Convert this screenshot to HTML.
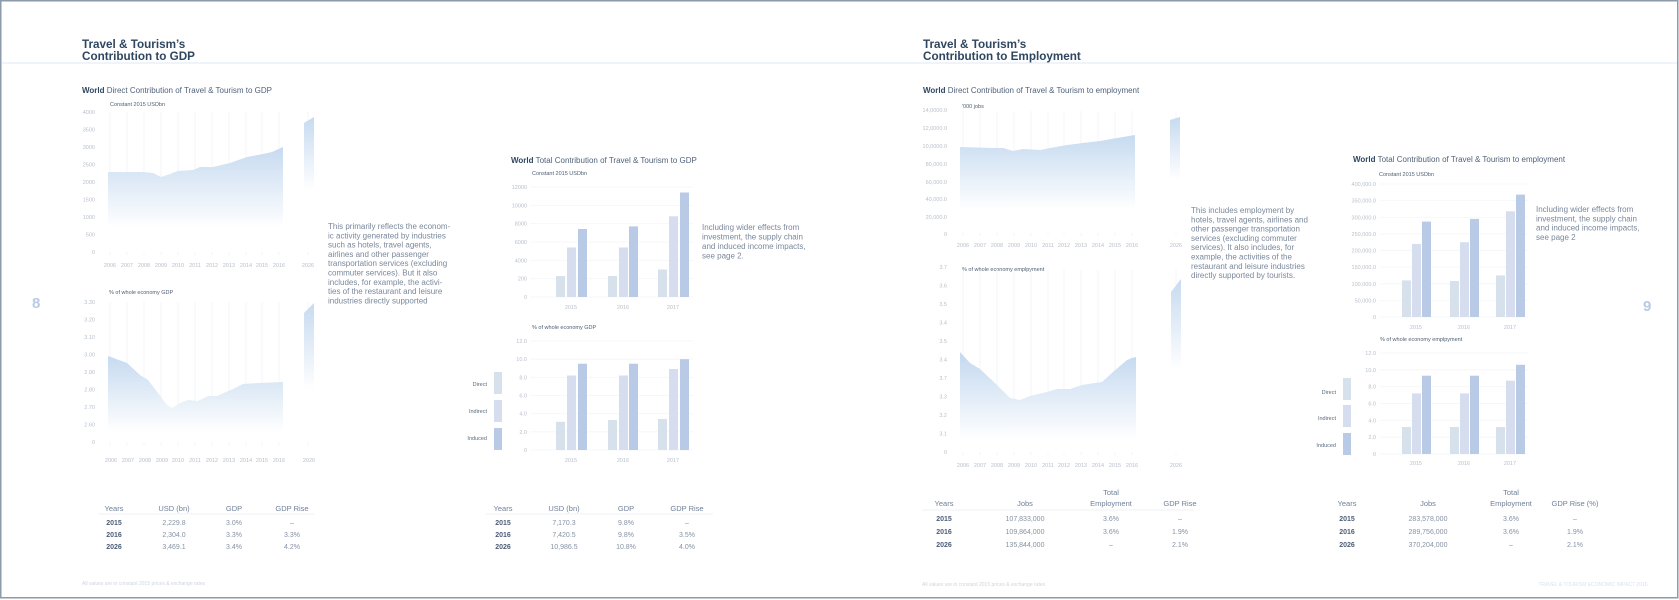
<!DOCTYPE html>
<html><head><meta charset="utf-8"><style>
html,body{margin:0;padding:0;background:#fff}
svg{display:block}
text{font-family:"Liberation Sans",sans-serif}
.t{fill:#2e4660;font-weight:bold;font-size:11.7px}
.h{fill:#51627a;font-size:8px}
.h b,.hb{font-weight:bold;fill:#2e4660}
.s{fill:#4e5e72;font-size:5.5px}
.k{fill:#b8c0cb;font-size:5.5px}
.p{fill:#7a889b;font-size:8px}
.th{fill:#708098;font-size:7.5px}
.ty{fill:#4d5d78;font-size:7px;font-weight:bold}
.tv{fill:#8592a4;font-size:7px}
.lg{fill:#5a6a80;font-size:5.5px}
.g{stroke:#f1f3f6;stroke-width:0.8}
.gh{stroke:#f3f5f8;stroke-width:0.8}
.d{fill:#d7e1ec}.i{fill:#d6ddee}.n{fill:#b8cae6}
</style></head><body>
<svg width="1679" height="600" viewBox="0 0 1679 600" xmlns="http://www.w3.org/2000/svg">
<defs>
<linearGradient id="g1" gradientUnits="userSpaceOnUse" x1="0" y1="147" x2="0" y2="228"><stop offset="0" stop-color="#c6daf0"/><stop offset="1" stop-color="#fff"/></linearGradient>
<linearGradient id="g1b" gradientUnits="userSpaceOnUse" x1="0" y1="117" x2="0" y2="190"><stop offset="0" stop-color="#c6daf0"/><stop offset="1" stop-color="#fff"/></linearGradient>
<linearGradient id="g2" gradientUnits="userSpaceOnUse" x1="0" y1="356" x2="0" y2="432"><stop offset="0" stop-color="#c6daf0"/><stop offset="1" stop-color="#fff"/></linearGradient>
<linearGradient id="g2b" gradientUnits="userSpaceOnUse" x1="0" y1="303" x2="0" y2="390"><stop offset="0" stop-color="#c6daf0"/><stop offset="1" stop-color="#fff"/></linearGradient>
<linearGradient id="g3" gradientUnits="userSpaceOnUse" x1="0" y1="135" x2="0" y2="210"><stop offset="0" stop-color="#c6daf0"/><stop offset="1" stop-color="#fff"/></linearGradient>
<linearGradient id="g3b" gradientUnits="userSpaceOnUse" x1="0" y1="117" x2="0" y2="180"><stop offset="0" stop-color="#c6daf0"/><stop offset="1" stop-color="#fff"/></linearGradient>
<linearGradient id="g4" gradientUnits="userSpaceOnUse" x1="0" y1="357" x2="0" y2="440"><stop offset="0" stop-color="#c6daf0"/><stop offset="1" stop-color="#fff"/></linearGradient>
<linearGradient id="g4b" gradientUnits="userSpaceOnUse" x1="0" y1="279" x2="0" y2="370"><stop offset="0" stop-color="#c6daf0"/><stop offset="1" stop-color="#fff"/></linearGradient>
</defs>

<rect x="0.75" y="0.75" width="1677" height="597" fill="none" stroke="#8c9aaa" stroke-width="1.5"/>
<rect x="2" y="62" width="1675" height="2" fill="#eef4fa"/>

<text class="t" x="82" y="48">Travel &amp; Tourism’s</text>
<text class="t" x="82" y="60">Contribution to GDP</text>
<text x="32" y="308" font-size="15" font-weight="bold" fill="#b8cae4" font-family="Liberation Sans">8</text>

<text class="h" x="82" y="93"><tspan class="hb">World</tspan> Direct Contribution of Travel &amp; Tourism to GDP</text>
<text class="s" x="110" y="106">Constant 2015 USDbn</text>
<g class="g">
<line x1="110" y1="112" x2="110" y2="255"/><line x1="127" y1="112" x2="127" y2="255"/><line x1="144" y1="112" x2="144" y2="255"/><line x1="161" y1="112" x2="161" y2="255"/><line x1="178" y1="112" x2="178" y2="255"/><line x1="195" y1="112" x2="195" y2="255"/><line x1="212" y1="112" x2="212" y2="255"/><line x1="229" y1="112" x2="229" y2="255"/><line x1="246" y1="112" x2="246" y2="255"/><line x1="262" y1="112" x2="262" y2="255"/><line x1="279" y1="112" x2="279" y2="255"/><line x1="308" y1="112" x2="308" y2="255"/>
</g>
<path d="M108,172 L143,172 L153,173 L161,177 L170,174 L178,171 L193,170 L200,167 L213,167 L230,163 L247,157 L263,154 L272,152 L283,147 L283,252 L108,252 Z" fill="url(#g1)"/>
<path d="M304,123 L314,117 L314,252 L304,252 Z" fill="url(#g1b)"/>
<g class="k" text-anchor="end">
<text x="95" y="114">4000</text><text x="95" y="131.5">3500</text><text x="95" y="149">3000</text><text x="95" y="166.5">2500</text><text x="95" y="184">2000</text><text x="95" y="201.5">1500</text><text x="95" y="219">1000</text><text x="95" y="236.5">500</text><text x="95" y="254">0</text>
</g>
<g class="k" text-anchor="middle">
<text x="110" y="267">2006</text><text x="127" y="267">2007</text><text x="144" y="267">2008</text><text x="161" y="267">2009</text><text x="178" y="267">2010</text><text x="195" y="267">2011</text><text x="212" y="267">2012</text><text x="229" y="267">2013</text><text x="246" y="267">2014</text><text x="262" y="267">2015</text><text x="279" y="267">2016</text><text x="308" y="267">2026</text>
</g>

<text class="s" x="109" y="294">% of whole economy GDP</text>
<g class="g">
<line x1="110" y1="302" x2="110" y2="445"/><line x1="127" y1="302" x2="127" y2="445"/><line x1="144" y1="302" x2="144" y2="445"/><line x1="161" y1="302" x2="161" y2="445"/><line x1="178" y1="302" x2="178" y2="445"/><line x1="195" y1="302" x2="195" y2="445"/><line x1="212" y1="302" x2="212" y2="445"/><line x1="229" y1="302" x2="229" y2="445"/><line x1="246" y1="302" x2="246" y2="445"/><line x1="262" y1="302" x2="262" y2="445"/><line x1="279" y1="302" x2="279" y2="445"/><line x1="308" y1="302" x2="308" y2="445"/>
</g>
<path d="M108,356 L127,363 L140,375 L148,380 L158,393 L167,405 L172,408 L180,403 L188,400 L198,401 L208,396 L217,396 L233,389 L243,384 L260,383 L283,382 L283,442 L108,442 Z" fill="url(#g2)"/>
<path d="M304,313 L314,303 L314,442 L304,442 Z" fill="url(#g2b)"/>
<g class="k" text-anchor="end">
<text x="95" y="304">3.30</text><text x="95" y="321.5">3.20</text><text x="95" y="339">3.10</text><text x="95" y="356.5">3.00</text><text x="95" y="374">2.90</text><text x="95" y="391.5">2.80</text><text x="95" y="409">2.70</text><text x="95" y="426.5">2.60</text><text x="95" y="444">0</text>
</g>
<g class="k" text-anchor="middle">
<text x="111" y="462">2006</text><text x="128" y="462">2007</text><text x="145" y="462">2008</text><text x="162" y="462">2009</text><text x="178" y="462">2010</text><text x="195" y="462">2011</text><text x="212" y="462">2012</text><text x="229" y="462">2013</text><text x="246" y="462">2014</text><text x="262" y="462">2015</text><text x="279" y="462">2016</text><text x="309" y="462">2026</text>
</g>

<g class="p">
<text x="328" y="229">This primarily reflects the econom-</text>
<text x="328" y="238.3">ic activity generated by industries</text>
<text x="328" y="247.6">such as hotels, travel agents,</text>
<text x="328" y="256.9">airlines and other passenger</text>
<text x="328" y="266.2">transportation services (excluding</text>
<text x="328" y="275.5">commuter services). But it also</text>
<text x="328" y="284.8">includes, for example, the activi-</text>
<text x="328" y="294.1">ties of the restaurant and leisure</text>
<text x="328" y="303.4">industries directly supported</text>
</g>

<text class="h" x="511" y="163"><tspan class="hb">World</tspan> Total Contribution of Travel &amp; Tourism to GDP</text>
<text class="s" x="532" y="175">Constant 2015 USDbn</text>
<g class="gh">
<line x1="530" y1="187" x2="693" y2="187"/><line x1="530" y1="205.3" x2="693" y2="205.3"/><line x1="530" y1="223.7" x2="693" y2="223.7"/><line x1="530" y1="242" x2="693" y2="242"/><line x1="530" y1="260.3" x2="693" y2="260.3"/><line x1="530" y1="278.7" x2="693" y2="278.7"/><line x1="530" y1="297" x2="693" y2="297"/>
</g>
<g class="k" text-anchor="end">
<text x="527" y="189">12000</text><text x="527" y="207.3">10000</text><text x="527" y="225.7">8000</text><text x="527" y="244">6000</text><text x="527" y="262.3">4000</text><text x="527" y="280.7">200</text><text x="527" y="299">0</text>
</g>
<rect class="d" x="556" y="276" width="9" height="21"/><rect class="i" x="567" y="247.5" width="9" height="49.5"/><rect class="n" x="578" y="229" width="9" height="68"/>
<rect class="d" x="608" y="276" width="9" height="21"/><rect class="i" x="619" y="247.5" width="9" height="49.5"/><rect class="n" x="629" y="226.4" width="9" height="70.6"/>
<rect class="d" x="658" y="269.5" width="9" height="27.5"/><rect class="i" x="669" y="216.3" width="9" height="80.7"/><rect class="n" x="680" y="192.5" width="9" height="104.5"/>
<g class="k" text-anchor="middle"><text x="571" y="309">2015</text><text x="623" y="309">2016</text><text x="673" y="309">2017</text></g>

<g class="p" font-size="8.5">
<text x="702" y="230">Including wider effects from</text>
<text x="702" y="239.5">investment, the supply chain</text>
<text x="702" y="249">and induced income impacts,</text>
<text x="702" y="258.5">see page 2.</text>
</g>

<text class="s" x="532" y="329">% of whole economy GDP</text>
<g class="gh">
<line x1="530" y1="341" x2="693" y2="341"/><line x1="530" y1="359.2" x2="693" y2="359.2"/><line x1="530" y1="377.3" x2="693" y2="377.3"/><line x1="530" y1="395.5" x2="693" y2="395.5"/><line x1="530" y1="413.7" x2="693" y2="413.7"/><line x1="530" y1="431.8" x2="693" y2="431.8"/><line x1="530" y1="450" x2="693" y2="450"/>
</g>
<g class="k" text-anchor="end">
<text x="527" y="343">12.0</text><text x="527" y="361.2">10.0</text><text x="527" y="379.3">8.0</text><text x="527" y="397.5">6.0</text><text x="527" y="415.7">4.0</text><text x="527" y="433.8">2.0</text><text x="527" y="452">0</text>
</g>
<rect class="d" x="556" y="421.8" width="9" height="28.2"/><rect class="i" x="567" y="375.5" width="9" height="74.5"/><rect class="n" x="578" y="363.7" width="9" height="86.3"/>
<rect class="d" x="608" y="420" width="9" height="30"/><rect class="i" x="619" y="375.5" width="9" height="74.5"/><rect class="n" x="629" y="363.7" width="9" height="86.3"/>
<rect class="d" x="658" y="419" width="9" height="31"/><rect class="i" x="669" y="369" width="9" height="81"/><rect class="n" x="680" y="359.2" width="9" height="90.8"/>
<g class="k" text-anchor="middle"><text x="571" y="462">2015</text><text x="623" y="462">2016</text><text x="673" y="462">2017</text></g>
<rect class="d" x="494" y="372" width="8" height="22"/><rect class="i" x="494" y="400" width="8" height="22"/><rect class="n" x="494" y="428" width="8" height="22"/>
<g class="lg" text-anchor="end"><text x="487" y="386">Direct</text><text x="487" y="413">Indirect</text><text x="487" y="440">Induced</text></g>

<g text-anchor="middle">
<text class="th" x="114" y="511">Years</text><text class="th" x="174" y="511">USD (bn)</text><text class="th" x="234" y="511">GDP</text><text class="th" x="292" y="511">GDP Rise</text>
<text class="ty" x="114" y="525">2015</text><text class="tv" x="174" y="525">2,229.8</text><text class="tv" x="234" y="525">3.0%</text><text class="tv" x="292" y="525">–</text>
<text class="ty" x="114" y="537">2016</text><text class="tv" x="174" y="537">2,304.0</text><text class="tv" x="234" y="537">3.3%</text><text class="tv" x="292" y="537">3.3%</text>
<text class="ty" x="114" y="549">2026</text><text class="tv" x="174" y="549">3,469.1</text><text class="tv" x="234" y="549">3.4%</text><text class="tv" x="292" y="549">4.2%</text>
<text class="th" x="503" y="511">Years</text><text class="th" x="564" y="511">USD (bn)</text><text class="th" x="626" y="511">GDP</text><text class="th" x="687" y="511">GDP Rise</text>
<text class="ty" x="503" y="525">2015</text><text class="tv" x="564" y="525">7,170.3</text><text class="tv" x="626" y="525">9.8%</text><text class="tv" x="687" y="525">–</text>
<text class="ty" x="503" y="537">2016</text><text class="tv" x="564" y="537">7,420.5</text><text class="tv" x="626" y="537">9.8%</text><text class="tv" x="687" y="537">3.5%</text>
<text class="ty" x="503" y="549">2026</text><text class="tv" x="564" y="549">10,986.5</text><text class="tv" x="626" y="549">10.8%</text><text class="tv" x="687" y="549">4.0%</text>
</g>
<line x1="98" y1="514" x2="314" y2="514" stroke="#e8ecf1" stroke-width="0.8"/>
<line x1="485" y1="514" x2="713" y2="514" stroke="#e8ecf1" stroke-width="0.8"/>
<text x="82" y="585" font-size="5" fill="#cfd5dd">All values are in constant 2015 prices &amp; exchange rates</text>

<text class="t" x="923" y="48">Travel &amp; Tourism’s</text>
<text class="t" x="923" y="60">Contribution to Employment</text>
<text class="h" x="923" y="93"><tspan class="hb">World</tspan> Direct Contribution of Travel &amp; Tourism to employment</text>
<text class="s" x="962" y="108">'000 jobs</text>
<g class="g">
<line x1="963" y1="111" x2="963" y2="236"/><line x1="980" y1="111" x2="980" y2="236"/><line x1="997" y1="111" x2="997" y2="236"/><line x1="1014" y1="111" x2="1014" y2="236"/><line x1="1031" y1="111" x2="1031" y2="236"/><line x1="1048" y1="111" x2="1048" y2="236"/><line x1="1064" y1="111" x2="1064" y2="236"/><line x1="1081" y1="111" x2="1081" y2="236"/><line x1="1098" y1="111" x2="1098" y2="236"/><line x1="1115" y1="111" x2="1115" y2="236"/><line x1="1132" y1="111" x2="1132" y2="236"/><line x1="1176" y1="111" x2="1176" y2="236"/>
</g>
<path d="M960,147 L993,148 L1003,148 L1013,151 L1023,149 L1040,150 L1050,148 L1067,145 L1083,143 L1100,141 L1117,138 L1135,135 L1135,233 L960,233 Z" fill="url(#g3)"/>
<path d="M1170,120 L1180,117 L1180,233 L1170,233 Z" fill="url(#g3b)"/>
<g class="k" text-anchor="end">
<text x="947" y="112">14,0000.0</text><text x="947" y="130">12,0000.0</text><text x="947" y="148">10,0000.0</text><text x="947" y="166">80,000.0</text><text x="947" y="184">60,000.0</text><text x="947" y="201">40,000.0</text><text x="947" y="219">20,000.0</text><text x="947" y="236">0</text>
</g>
<g class="k" text-anchor="middle">
<text x="963" y="247">2006</text><text x="980" y="247">2007</text><text x="997" y="247">2008</text><text x="1014" y="247">2009</text><text x="1031" y="247">2010</text><text x="1048" y="247">2011</text><text x="1064" y="247">2012</text><text x="1081" y="247">2013</text><text x="1098" y="247">2014</text><text x="1115" y="247">2015</text><text x="1132" y="247">2016</text><text x="1176" y="247">2026</text>
</g>

<g class="p">
<text x="1191" y="213">This includes employment by</text>
<text x="1191" y="222.3">hotels, travel agents, airlines and</text>
<text x="1191" y="231.6">other passenger transportation</text>
<text x="1191" y="240.9">services (excluding commuter</text>
<text x="1191" y="250.2">services). It also includes, for</text>
<text x="1191" y="259.5">example, the activities of the</text>
<text x="1191" y="268.8">restaurant and leisure industries</text>
<text x="1191" y="278.1">directly supported by tourists.</text>
</g>

<text class="s" x="962" y="271">% of whole economy emplpyment</text>
<g class="g">
<line x1="963" y1="270" x2="963" y2="455"/><line x1="980" y1="270" x2="980" y2="455"/><line x1="997" y1="270" x2="997" y2="455"/><line x1="1014" y1="270" x2="1014" y2="455"/><line x1="1031" y1="270" x2="1031" y2="455"/><line x1="1048" y1="270" x2="1048" y2="455"/><line x1="1064" y1="270" x2="1064" y2="455"/><line x1="1081" y1="270" x2="1081" y2="455"/><line x1="1098" y1="270" x2="1098" y2="455"/><line x1="1115" y1="270" x2="1115" y2="455"/><line x1="1132" y1="270" x2="1132" y2="455"/><line x1="1176" y1="270" x2="1176" y2="455"/>
</g>
<path d="M960,352 L970,363 L980,369 L997,385 L1002,390 L1010,398 L1020,400 L1030,396 L1047,392 L1057,389 L1070,389 L1082,385 L1095,383 L1102,382 L1113,372 L1127,360 L1132,358 L1136,357 L1136,452 L960,452 Z" fill="url(#g4)"/>
<path d="M1171,292 L1181,279 L1181,452 L1171,452 Z" fill="url(#g4b)"/>
<g class="k" text-anchor="end">
<text x="947" y="269">3.7</text><text x="947" y="287.5">3.6</text><text x="947" y="306">3.5</text><text x="947" y="324.5">3.4</text><text x="947" y="343">3.5</text><text x="947" y="361.5">3.4</text><text x="947" y="380">3.7</text><text x="947" y="398.5">3.3</text><text x="947" y="417">3.2</text><text x="947" y="435.5">3.1</text><text x="947" y="454">0</text>
</g>
<g class="k" text-anchor="middle">
<text x="963" y="467">2006</text><text x="980" y="467">2007</text><text x="997" y="467">2008</text><text x="1014" y="467">2009</text><text x="1031" y="467">2010</text><text x="1048" y="467">2011</text><text x="1064" y="467">2012</text><text x="1081" y="467">2013</text><text x="1098" y="467">2014</text><text x="1115" y="467">2015</text><text x="1132" y="467">2016</text><text x="1176" y="467">2026</text>
</g>

<text class="h" x="1353" y="162"><tspan class="hb">World</tspan> Total Contribution of Travel &amp; Tourism to employment</text>
<text class="s" x="1379" y="176">Constant 2015 USDbn</text>
<g class="gh">
<line x1="1380" y1="184" x2="1528" y2="184"/><line x1="1380" y1="200.6" x2="1528" y2="200.6"/><line x1="1380" y1="217.3" x2="1528" y2="217.3"/><line x1="1380" y1="233.9" x2="1528" y2="233.9"/><line x1="1380" y1="250.5" x2="1528" y2="250.5"/><line x1="1380" y1="267.1" x2="1528" y2="267.1"/><line x1="1380" y1="283.8" x2="1528" y2="283.8"/><line x1="1380" y1="300.4" x2="1528" y2="300.4"/><line x1="1380" y1="317" x2="1528" y2="317"/>
</g>
<g class="k" text-anchor="end">
<text x="1376" y="186">400,000.0</text><text x="1376" y="202.6">350,000.0</text><text x="1376" y="219.3">300,000.0</text><text x="1376" y="235.9">250,000.0</text><text x="1376" y="252.5">200,000.0</text><text x="1376" y="269.1">150,000.0</text><text x="1376" y="285.8">100,000.0</text><text x="1376" y="302.4">50,000.0</text><text x="1376" y="319">0</text>
</g>
<rect class="d" x="1402" y="280.4" width="9" height="36.6"/><rect class="i" x="1412" y="243.9" width="9" height="73.1"/><rect class="n" x="1422" y="221.6" width="9" height="95.4"/>
<rect class="d" x="1450" y="281" width="9" height="36"/><rect class="i" x="1460" y="242.2" width="9" height="74.8"/><rect class="n" x="1470" y="218.9" width="9" height="98.1"/>
<rect class="d" x="1496" y="275.4" width="9" height="41.6"/><rect class="i" x="1506" y="211.3" width="9" height="105.7"/><rect class="n" x="1516" y="194.6" width="9" height="122.4"/>
<g class="k" text-anchor="middle"><text x="1416" y="329">2015</text><text x="1464" y="329">2016</text><text x="1510" y="329">2017</text></g>

<g class="p" font-size="8.5">
<text x="1536" y="212">Including wider effects from</text>
<text x="1536" y="221.3">investment, the supply chain</text>
<text x="1536" y="230.6">and induced income impacts,</text>
<text x="1536" y="239.9">see page 2</text>
</g>
<text x="1643" y="311" font-size="15" font-weight="bold" fill="#b8cae4" font-family="Liberation Sans">9</text>

<text class="s" x="1380" y="341">% of whole economy emplpyment</text>
<g class="gh">
<line x1="1380" y1="353" x2="1528" y2="353"/><line x1="1380" y1="369.8" x2="1528" y2="369.8"/><line x1="1380" y1="386.7" x2="1528" y2="386.7"/><line x1="1380" y1="403.5" x2="1528" y2="403.5"/><line x1="1380" y1="420.3" x2="1528" y2="420.3"/><line x1="1380" y1="437.2" x2="1528" y2="437.2"/><line x1="1380" y1="454" x2="1528" y2="454"/>
</g>
<g class="k" text-anchor="end">
<text x="1376" y="355">12.0</text><text x="1376" y="371.8">10.0</text><text x="1376" y="388.7">8.0</text><text x="1376" y="405.5">6.0</text><text x="1376" y="422.3">4.0</text><text x="1376" y="439.2">2.0</text><text x="1376" y="456">0</text>
</g>
<rect class="d" x="1402" y="427" width="9" height="27"/><rect class="i" x="1412" y="393.4" width="9" height="60.6"/><rect class="n" x="1422" y="375.7" width="9" height="78.3"/>
<rect class="d" x="1450" y="427" width="9" height="27"/><rect class="i" x="1460" y="393.4" width="9" height="60.6"/><rect class="n" x="1470" y="375.7" width="9" height="78.3"/>
<rect class="d" x="1496" y="427" width="9" height="27"/><rect class="i" x="1506" y="380.7" width="9" height="73.3"/><rect class="n" x="1516" y="364.8" width="9" height="89.2"/>
<g class="k" text-anchor="middle"><text x="1416" y="465">2015</text><text x="1464" y="465">2016</text><text x="1510" y="465">2017</text></g>
<rect class="d" x="1343" y="378" width="8" height="22"/><rect class="i" x="1343" y="405" width="8" height="22"/><rect class="n" x="1343" y="433" width="8" height="22"/>
<g class="lg" text-anchor="end"><text x="1336" y="394">Direct</text><text x="1336" y="420">Indirect</text><text x="1336" y="447">Induced</text></g>

<g text-anchor="middle">
<text class="th" x="1111" y="495">Total</text>
<text class="th" x="944" y="506">Years</text><text class="th" x="1025" y="506">Jobs</text><text class="th" x="1111" y="506">Employment</text><text class="th" x="1180" y="506">GDP Rise</text>
<text class="ty" x="944" y="521">2015</text><text class="tv" x="1025" y="521">107,833,000</text><text class="tv" x="1111" y="521">3.6%</text><text class="tv" x="1180" y="521">–</text>
<text class="ty" x="944" y="534">2016</text><text class="tv" x="1025" y="534">109,864,000</text><text class="tv" x="1111" y="534">3.6%</text><text class="tv" x="1180" y="534">1.9%</text>
<text class="ty" x="944" y="547">2026</text><text class="tv" x="1025" y="547">135,844,000</text><text class="tv" x="1111" y="547">–</text><text class="tv" x="1180" y="547">2.1%</text>
<text class="th" x="1511" y="495">Total</text>
<text class="th" x="1347" y="506">Years</text><text class="th" x="1428" y="506">Jobs</text><text class="th" x="1511" y="506">Employment</text><text class="th" x="1575" y="506">GDP Rise (%)</text>
<text class="ty" x="1347" y="521">2015</text><text class="tv" x="1428" y="521">283,578,000</text><text class="tv" x="1511" y="521">3.6%</text><text class="tv" x="1575" y="521">–</text>
<text class="ty" x="1347" y="534">2016</text><text class="tv" x="1428" y="534">289,756,000</text><text class="tv" x="1511" y="534">3.6%</text><text class="tv" x="1575" y="534">1.9%</text>
<text class="ty" x="1347" y="547">2026</text><text class="tv" x="1428" y="547">370,204,000</text><text class="tv" x="1511" y="547">–</text><text class="tv" x="1575" y="547">2.1%</text>
</g>
<line x1="922" y1="510" x2="1194" y2="510" stroke="#e8ecf1" stroke-width="0.8"/>
<text x="922" y="586" font-size="5" fill="#cfd5dd">All values are in constant 2015 prices &amp; exchange rates</text>
<text x="1593" y="586" font-size="5" fill="#d8e2ee" text-anchor="middle">TRAVEL &amp; TOURISM ECONOMIC IMPACT 2016</text>
</svg>
</body></html>
